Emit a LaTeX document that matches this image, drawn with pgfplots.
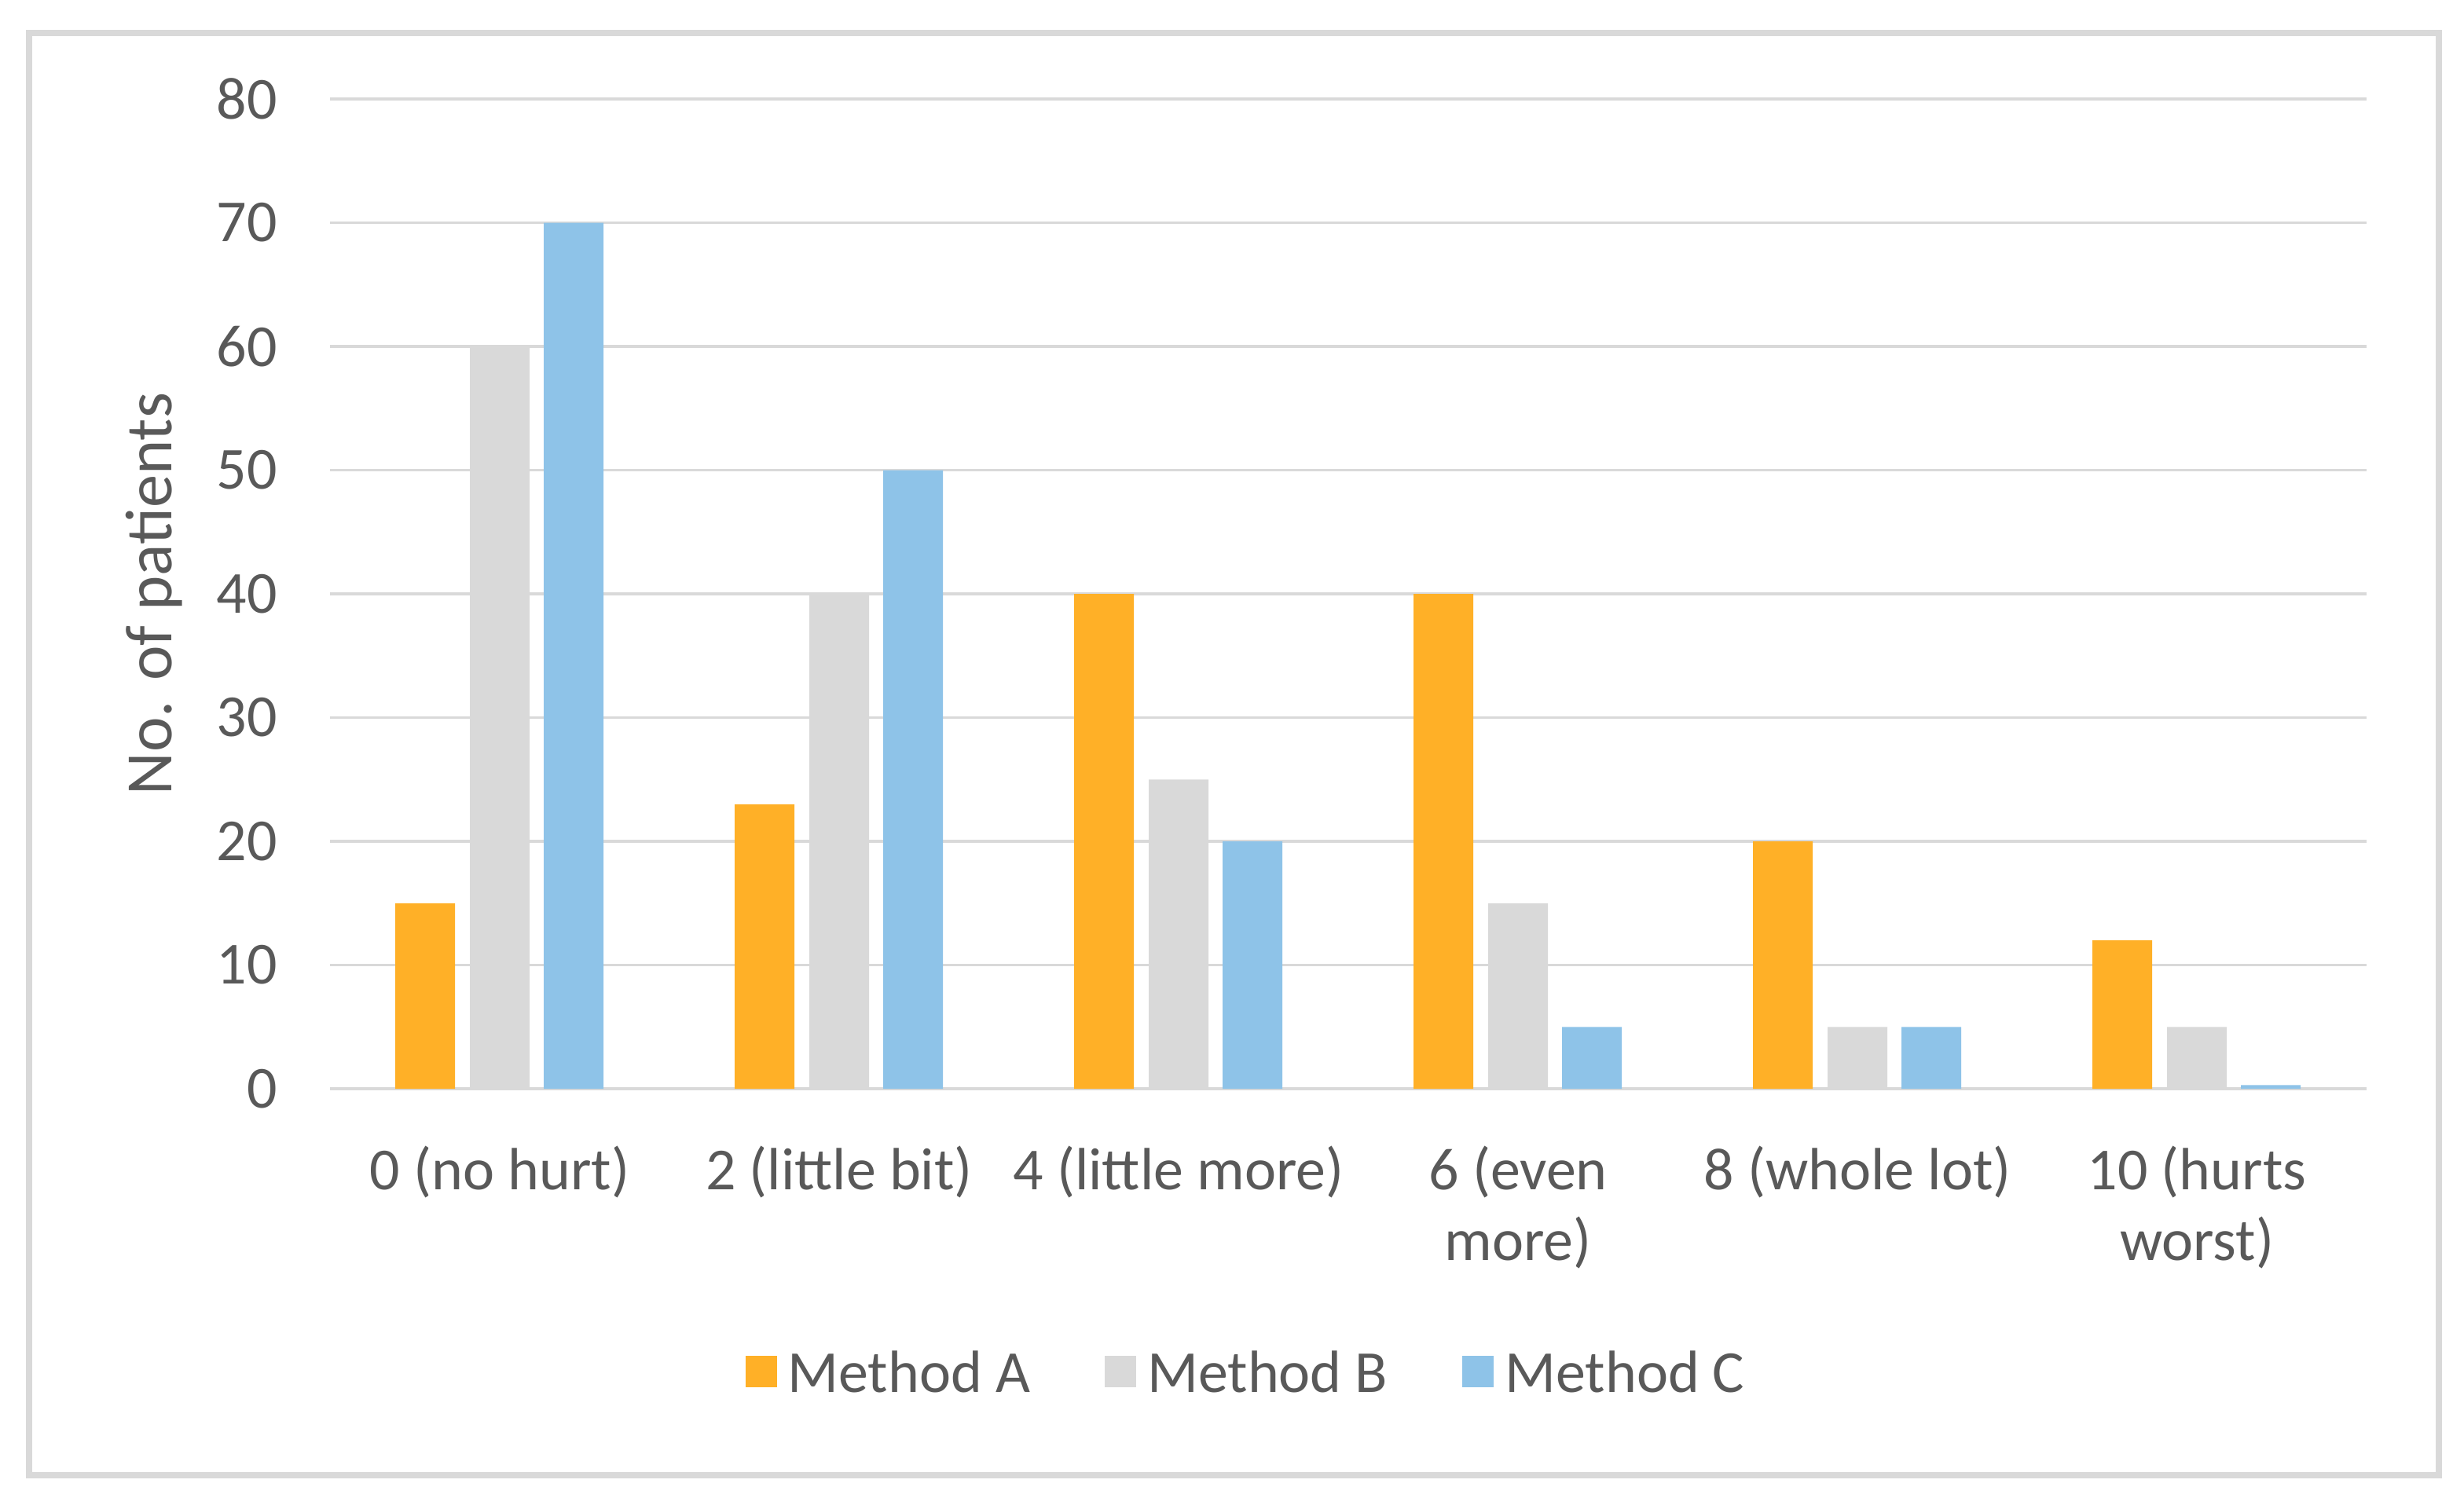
\documentclass[border=0pt]{standalone}
\usepackage{fontspec}
\setmainfont{Carlito}
\usepackage{pgfplots}
\pgfplotsset{compat=1.18}

\definecolor{mA}{RGB}{255,176,39}
\definecolor{mB}{RGB}{217,217,217}
\definecolor{mC}{RGB}{142,195,232}
\definecolor{gridc}{RGB}{217,217,217}
\definecolor{textc}{RGB}{89,89,89}

\begin{document}
\begin{tikzpicture}
\path[use as bounding box] (0,0) rectangle (156.8mm,96mm);
\fill[white] (0,0) rectangle (156.8mm,96mm);
\draw[gridc, line width=0.4mm] (1.85mm,2.1mm) rectangle (155.2mm,93.9mm);
\begin{axis}[
    at={(21mm,26.7mm)}, anchor=south west,
    scale only axis, width=129.6mm, height=63mm,
    xmin=-0.5, xmax=5.5, ymin=0, ymax=80,
    ytick={0,10,...,80},
    xtick={0,1,2,3,4,5},
    xticklabels={0 (no hurt),2 (little bit),4 (little more),{6 (even\\more)},8 (whole lot),{10 (hurts\\worst)}},
    axis lines*=left,
    x axis line style={gridc, line width=0.5pt},
    y axis line style={draw=none},
    major tick length=0pt,
    ymajorgrids, grid style={gridc, line width=0.5pt},
    /pgf/number format/assume math mode=true,
    yticklabel style={anchor=east, inner sep=0pt, xshift=-3.3mm, text=textc, font=\fontsize{10.8}{12.8}\selectfont},
    xticklabel style={align=center, anchor=north, inner sep=0pt, yshift=-3.6mm, text=textc, font=\fontsize{10.8}{12.8}\selectfont},
    ylabel={No. of patients},
    ylabel style={at={(axis description cs:-0.0864,0.5)}, anchor=center, text=textc, font=\fontsize{12}{14}\selectfont},
    legend columns=3,
    legend image code/.code={\fill[#1] (0mm,-0.75mm) rectangle (2mm,1.25mm);},
    legend style={at={(0.452,-0.29)}, anchor=center, draw=none, fill=none, text=textc,
        font=\fontsize{10.8}{12.8}\selectfont,
        /tikz/every even column/.append style={column sep=4.05mm}},
    bar width=3.8mm,
]
\addplot[ybar, bar shift=-4.75mm, fill=mA, draw=none] coordinates {
    (0,15) (1,23) (2,40) (3,40) (4,20) (5,12)
};
\addplot[ybar, bar shift=0mm, fill=mB, draw=none] coordinates {
    (0,60) (1,40) (2,25) (3,15) (4,5) (5,5)
};
\addplot[ybar, bar shift=4.7mm, fill=mC, draw=none] coordinates {
    (0,70) (1,50) (2,20) (3,5) (4,5) (5,0.3)
};
\legend{Method A,Method B,Method C}
\end{axis}
\end{tikzpicture}
\end{document}
